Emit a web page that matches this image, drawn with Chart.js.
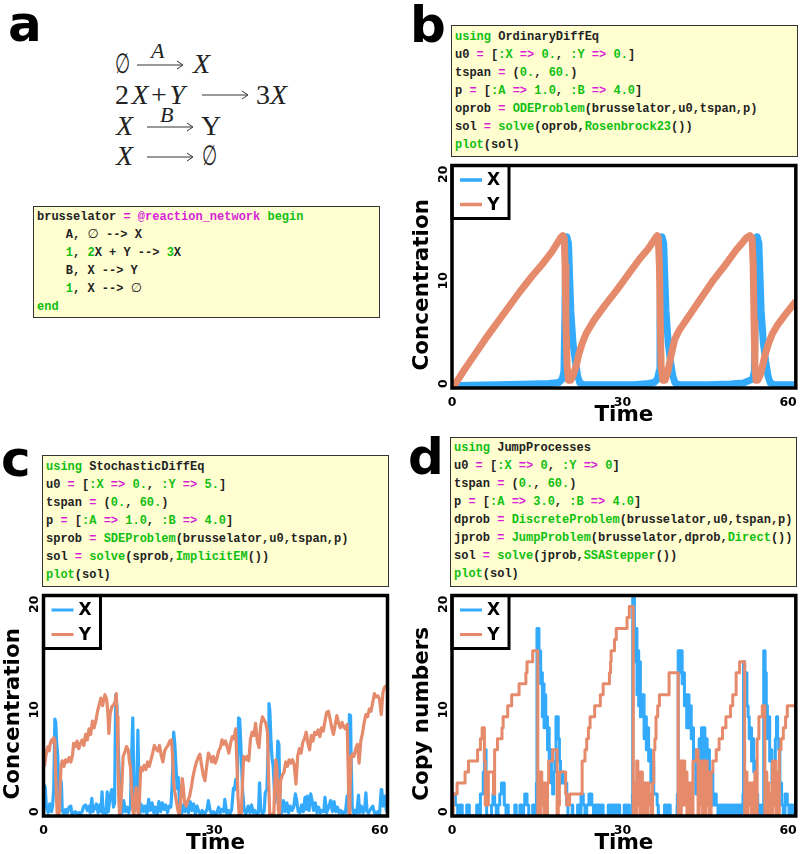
<!DOCTYPE html>
<html>
<head>
<meta charset="utf-8">
<title>Brusselator</title>
<script src="https://cdn.jsdelivr.net/npm/chart.js@4/dist/chart.umd.min.js"></script>
<style>
  body { margin: 0; background: #fff; width: 800px; height: 854px; position: relative; overflow: hidden; }
  canvas { position: absolute; }
  .letter { position: absolute; font: bold 50px "DejaVu Sans"; line-height: 1; color: #000; }
  .eq { position: absolute; font: 28px "Liberation Serif", "DejaVu Serif"; line-height: 1; color: #222; white-space: pre; }
  .eq.small { font-size: 22px; font-style: italic; }
  .eq.empty { transform: scaleX(0.62); transform-origin: left center; }
  .code {
    position: absolute; box-sizing: border-box; margin: 0; background: #fefed0; border: 1px solid #333;
    font: bold 12px/18px "Liberation Mono", "DejaVu Sans Mono", monospace; color: #222; padding: 0 0 0 3px; white-space: pre;
  }
  .g { color: #10c010; }
  .m { color: #d81fd8; }
  .e { font: 13px/0 "DejaVu Sans"; }
  svg.arrows { position: absolute; left: 0; top: 0; }
</style>
</head>
<body>

<div class="letter" style="left:8px;top:-1px">a</div>
<div class="letter" style="left:410px;top:0px">b</div>
<div class="letter" style="left:1px;top:434px">c</div>
<div class="letter" style="left:408px;top:432px">d</div>

<div class="eq empty" style="left:115px;top:50px">∅</div>
<div class="eq small" style="left:151px;top:40px">A</div>
<div class="eq" style="left:193px;top:50px"><i>X</i></div>
<div class="eq" style="left:115px;top:81px;letter-spacing:2.5px">2<i>X</i>+<i>Y</i></div>
<div class="eq" style="left:256px;top:81px">3<i>X</i></div>
<div class="eq" style="left:116px;top:112px"><i>X</i></div>
<div class="eq small" style="left:160px;top:104px">B</div>
<div class="eq" style="left:201px;top:112px">Y</div>
<div class="eq" style="left:116px;top:142px"><i>X</i></div>
<div class="eq empty" style="left:202px;top:142px">∅</div>
<svg class="arrows" width="400" height="200" fill="none" stroke="#333" stroke-width="1">
  <path d="M137 65H182M177 61L183 65L177 69"/>
  <path d="M202 95H247M242 91L248 95L242 99"/>
  <path d="M147 127H192M187 123L193 127L187 131"/>
  <path d="M147 157H192M187 153L193 157L187 161"/>
</svg>

<pre class="code" style="left:33px;top:206px;width:347px;height:112px;padding-top:1px">brusselator <span class="m">=</span> <span class="m">@reaction_network</span> <span class="g">begin</span>
    A, <span class="e">∅</span> --&gt; X
    <span class="g">1</span>, <span class="g">2</span>X + Y --&gt; <span class="g">3</span>X
    B, X --&gt; Y
    <span class="g">1</span>, X --&gt; <span class="e">∅</span>
<span class="g">end</span></pre>

<pre class="code" style="left:451px;top:25px;width:347px;height:132px;padding-top:2px"><span class="g">using</span> OrdinaryDiffEq
u0 <span class="m">=</span> [<span class="g">:X</span> <span class="m">=&gt;</span> <span class="g">0.</span>, <span class="g">:Y</span> <span class="m">=&gt;</span> <span class="g">0.</span>]
tspan <span class="m">=</span> (<span class="g">0.</span>, <span class="g">60.</span>)
p <span class="m">=</span> [<span class="g">:A</span> <span class="m">=&gt;</span> <span class="g">1.0</span>, <span class="g">:B</span> <span class="m">=&gt;</span> <span class="g">4.0</span>]
oprob <span class="m">=</span> <span class="g">ODEProblem</span>(brusselator,u0,tspan,p)
sol <span class="m">=</span> <span class="g">solve</span>(oprob,<span class="g">Rosenbrock23</span>())
<span class="g">plot</span>(sol)</pre>

<pre class="code" style="left:42px;top:455px;width:347px;height:132px;padding-top:2px"><span class="g">using</span> StochasticDiffEq
u0 <span class="m">=</span> [<span class="g">:X</span> <span class="m">=&gt;</span> <span class="g">0.</span>, <span class="g">:Y</span> <span class="m">=&gt;</span> <span class="g">5.</span>]
tspan <span class="m">=</span> (<span class="g">0.</span>, <span class="g">60.</span>)
p <span class="m">=</span> [<span class="g">:A</span> <span class="m">=&gt;</span> <span class="g">1.0</span>, <span class="g">:B</span> <span class="m">=&gt;</span> <span class="g">4.0</span>]
sprob <span class="m">=</span> <span class="g">SDEProblem</span>(brusselator,u0,tspan,p)
sol <span class="m">=</span> <span class="g">solve</span>(sprob,<span class="g">ImplicitEM</span>())
<span class="g">plot</span>(sol)</pre>

<pre class="code" style="left:450px;top:437px;width:347px;height:150px;padding-top:1px"><span class="g">using</span> JumpProcesses
u0 <span class="m">=</span> [<span class="g">:X</span> <span class="m">=&gt;</span> <span class="g">0</span>, <span class="g">:Y</span> <span class="m">=&gt;</span> <span class="g">0</span>]
tspan <span class="m">=</span> (<span class="g">0.</span>, <span class="g">60.</span>)
p <span class="m">=</span> [<span class="g">:A</span> <span class="m">=&gt;</span> <span class="g">3.0</span>, <span class="g">:B</span> <span class="m">=&gt;</span> <span class="g">4.0</span>]
dprob <span class="m">=</span> <span class="g">DiscreteProblem</span>(brusselator,u0,tspan,p)
jprob <span class="m">=</span> <span class="g">JumpProblem</span>(brusselator,dprob,<span class="g">Direct</span>())
sol <span class="m">=</span> <span class="g">solve</span>(jprob,<span class="g">SSAStepper</span>())
<span class="g">plot</span>(sol)</pre>

<canvas id="chartB" width="400" height="268" style="left:400px;top:158px"></canvas>
<canvas id="chartC" width="400" height="266" style="left:0;top:588px"></canvas>
<canvas id="chartD" width="400" height="266" style="left:400px;top:588px"></canvas>

<script>
// values, time and value lists go in pairs

const xTicks = [0, 30, 60];
const yTicks = [0, 10, 20];

// panel b: ODE
const bXTime = [
  0,0.3,3,8,14,17,18.8,19.4,19.7,19.85,
  20,20.2,20.5,20.9,21.3,21.7,22.1,22.5,23.3,
  28,32,34.5,35.6,36.15,36.45,36.6,36.75,36.95,37.25,
  37.65,38.05,38.45,38.85,39.25,40,
  45,49,51.3,52.9,53.2,53.35,53.5,53.7,54,
  54.4,54.8,55.2,55.6,56,56.8,60.5
];
const bXValues = [
  0,0.2,0.25,0.3,0.35,0.4,0.5,0.8,1.5,6,
  12,13.6,13,7,4,2.4,1.1,0.45,0.3,
  0.3,0.3,0.4,0.5,0.8,1.5,6,12,13.6,13,
  7,4,2.4,1.1,0.45,0.3,
  0.3,0.35,0.45,0.8,1.5,6,12,13.6,13,
  7,4,2.4,1.1,0.45,0.3,0.3
];
const bYTime = [
  0,0.5,2,4,6,8,10,12,14,16,
  17.5,18.5,19.1,19.5,19.75,19.9,20.05,20.25,20.5,20.9,
  21.3,21.8,22.3,22.9,23.6,25,27,29,31,33,
  34.5,35.3,35.8,36.1,36.3,36.5,36.65,36.8,37.1,37.5,
  38,38.5,39.2,40,42,44,46,48,50,51,
  51.8,52.4,52.8,53,53.15,53.3,53.5,53.8,54.2,54.6,
  55.1,55.7,56.4,57.2,58.5,60.5
];
const bYValues = [
  0,0.3,1.5,3,4.5,5.9,7.3,8.7,10,11.2,
  12.2,13,13.5,13.7,13.5,11,6,2,0.7,0.7,
  1.1,1.9,3,4,4.9,6.1,7.5,8.8,10.2,11.6,
  12.5,13.1,13.5,13.7,13.5,11,6,2,0.7,0.7,
  1.5,2.8,4.4,5.2,6.7,8.2,9.7,11,12.4,13,
  13.5,13.7,13.5,11,6,2,0.7,0.7,1.1,1.9,
  3,4,4.9,5.6,6.5,7.8
];

// panel c: SDE
const cXTime = [
  0,0.15,0.3,0.5,0.8,1.1,1.4,1.6,1.8,2.0,
  2.15,2.3,2.5,2.7,2.85,3.0,3.15,3.3,3.6,3.9,
  4.2,4.5,4.8,5.0,5.3,5.6,5.9,6.2,6.5,6.8,
  7.1,7.4,7.7,8.0,8.2,8.5,8.7,9.0,9.3,9.6,
  9.9,10.1,10.3,10.5,10.8,11.0,11.2,11.4,11.7,12.0,
  12.3,12.5,12.7,12.9,13.1,13.3,13.5,13.8,14.1,14.4,
  14.7,15,15.3,15.5,15.7,15.9,16.1,16.4,16.6,16.8,
  17,17.3,17.6,17.9,18.2,18.5,18.8,19.1,19.4,19.7,
  20,20.3,20.6,20.9,21.2,21.5,21.8,22.1,22.4,22.6,
  22.9,23.1,23.3,23.5,23.7,24,24.3,24.6,24.9,25.2,
  25.5,25.8,26.1,26.4,26.7,27,27.3,27.6,27.9,28.2,
  28.5,28.8,29,29.3,29.6,29.9,30.2,30.5,30.8,31.1,
  31.4,31.7,31.9,32.2,32.5,32.8,33.1,33.4,33.6,33.8,
  34.1,34.3,34.5,34.7,35,35.3,35.6,36,36.3,36.6,
  36.9,37.2,37.5,37.8,38,38.2,38.5,38.8,39,39.3,
  39.5,39.65,39.8,40,40.2,40.4,40.7,41,41.2,41.4,
  41.6,41.9,42.2,42.5,42.8,43.1,43.4,43.7,44,44.3,
  44.5,44.8,45.1,45.4,45.7,46,46.2,46.4,46.7,47,
  47.2,47.5,47.8,48.1,48.4,48.7,49,49.3,49.5,49.8,
  50.1,50.5,50.8,51.1,51.4,51.7,52,52.3,52.6,52.9,
  53.1,53.4,53.6,53.8,54,54.1,54.3,54.6,54.9,55.1,
  55.4,55.6,55.9,56.2,56.5,56.7,56.9,57.2,57.5,57.9,
  58.2,58.5,58.8,59.1,59.4,59.5,59.7,60,60.3,60.5
];
const cXValues = [
  0,2.8,2.6,0.9,0.3,1.1,0.4,0.9,2.5,8.8,
  8.5,6.8,5.5,2.2,1.0,3.3,3.0,0.5,0.2,0.6,
  0.3,0.8,0.9,0.2,0.3,0.4,0.2,0.3,0.2,0.4,
  0.9,1.0,0.5,0.9,0.3,1.6,0.4,0.7,1.1,0.3,
  1.0,0.4,2.2,0.3,0.6,0.2,2.2,0.4,1.8,2.4,
  0.8,1.2,11,10,7,4,1.5,0.3,1.4,0.4,
  0.8,0.3,1,5.4,8.9,3,0.5,2,7.8,2.2,
  0.3,1.0,0.4,0.9,0.2,1.5,0.5,1.2,0.3,0.8,
  0.2,1.3,0.4,1.2,0.6,1.0,0.3,0.9,0.8,2.5,
  7.6,6.5,4.5,2.5,3.5,0.5,0.2,1,0.4,0.9,
  0.3,1.3,0.5,1.1,0.2,0.9,0.4,0.2,0.5,0.2,
  0.3,0.7,1.4,0.5,0.2,0.4,0.2,0.3,0.8,0.3,
  0.6,0.4,1.5,0.3,0.5,0.2,0.6,2.5,2.4,3.3,
  3,8.9,8.8,6.6,2.4,0.5,0.2,0.9,0.3,1,
  0.3,0.5,0.2,0.3,3,0.6,0.2,0.4,2.1,2.4,
  6,10.2,9.6,6.9,5.2,4.5,1.2,3,6.8,6.5,
  0.9,0.3,1.4,0.4,1.2,0.3,0.9,0.5,0.8,2,
  1.5,0.4,0.3,1,0.4,1.7,0.6,1.8,0.5,2,
  1.5,0.5,1.2,0.3,0.8,0.3,0.5,0.4,1.7,0.3,
  0.7,1.4,0.4,1.3,0.4,0.8,0.3,0.5,0.2,0.4,
  0.3,1.8,0.4,9.2,9.1,5.4,0.8,0.2,0.5,0.3,
  1.9,0.3,0.9,0.3,0.8,2.1,0.4,0.3,0.6,0.9,
  0.3,0.2,0.4,0.2,2.4,2.3,0.9,1.8,0.5,1
];
const cYTime = [
  0,0.2,0.4,0.6,0.8,1.0,1.2,1.4,1.6,1.8,2.0,2.1,2.25,2.4,2.6,2.8,2.95,3.1,
  3.3,3.6,3.9,4.2,4.5,4.8,5.1,5.3,5.6,5.9,6.2,6.5,6.8,7.1,7.4,7.7,8.0,8.3,8.6,8.9,
  9.2,9.5,9.8,10.1,10.4,10.8,11.1,11.3,11.5,11.7,12.0,12.35,12.6,12.8,12.95,13.1,13.25,13.4,
  13.6,13.8,14.0,14.3,14.6,14.9,15.1,15.3,15.5,15.7,15.9,16.1,16.3,16.5,16.7,16.9,17.1,
  17.4,17.7,18,18.3,18.6,18.9,19.2,19.5,19.8,20.1,20.4,20.7,21,21.3,21.6,21.9,22.2,22.5,22.7,22.9,
  23.1,23.3,23.6,23.9,24.2,24.4,24.6,24.8,25.1,25.4,25.7,26,26.3,26.6,26.9,27.2,27.5,
  27.8,28.1,28.4,28.7,29,29.3,29.6,29.9,30.2,30.5,30.8,31.1,31.4,31.7,32,32.3,32.6,32.9,33.2,33.5,33.8,34,34.2,34.4,34.6,34.8,
  35,35.2,35.5,35.8,36.1,36.4,36.7,37,37.3,37.6,37.9,38.2,38.5,38.8,39.1,39.4,39.6,39.8,40,40.3,
  40.5,40.7,40.85,41.05,41.3,41.5,41.7,42,42.3,42.6,42.9,43.2,43.5,43.8,44.1,44.4,44.7,45,45.3,45.6,
  45.9,46.2,46.5,46.8,47.1,47.4,47.7,48,48.3,48.6,48.9,49.2,49.5,49.8,50.1,50.4,50.7,51,51.3,51.6,
  51.9,52.2,52.5,52.8,53.1,53.4,53.6,53.75,53.9,54.1,54.3,
  54.6,54.9,55.2,55.5,55.8,56.1,56.4,56.7,57,57.3,57.6,57.9,58.2,58.5,58.8,59.1,59.4,59.7,60,60.3
];
const cYValues = [
  5.0,4.6,5.4,6.0,6.3,5.9,6.6,6.9,6.7,7.1,6.9,4.5,2.0,0.3,0.0,0.4,3.0,4.6,
  5.0,4.5,5.1,4.9,5.3,4.9,5.5,6.6,6.3,6.8,6.1,6.6,6.9,6.4,7.4,6.9,7.9,7.4,8.6,8.0,
  8.6,9.5,10.1,10.7,10.0,11.0,10.6,9.5,7.5,9.2,9.9,10.1,10.4,11.1,9,5,1.5,0,
  1,3,5.4,5.8,6.3,6.0,5.0,4.4,2.5,0.6,0,1.5,2.6,1.0,0,1.8,4.4,
  4.1,4.6,4.2,4.9,4.5,5.1,5.7,6.4,6.1,5.9,6.4,5.5,4.9,5.9,6.2,6.4,6.8,6.9,5.5,3,
  2.2,1.6,0.6,0,2,3.4,2.6,1.2,0.9,1.4,1.8,2.6,3.6,4.3,4.9,5.3,5.6,
  4.6,3.7,3.2,4.5,5.7,5.4,4.9,5.4,4.8,5.2,5.9,6.2,6.9,6.5,6.8,6.3,5.7,6.6,7.2,7.0,7.9,5,1.8,0.2,0,0.3,
  3,5.4,5.1,5.4,5.0,7.0,7.6,7.3,8.4,6.8,6.2,8.2,9.0,8.7,8.4,7.6,3,0,0,0.2,
  0,3.5,5.1,4.4,0.5,0,3.2,3.7,4.0,4.9,4.5,5.1,4.8,5.1,4.6,2.9,5.4,6.1,5.7,6.7,
  7.0,7.6,6.6,6.0,7.3,6.8,7.6,7.4,7.8,7.2,8.0,7.7,8.6,9.4,9.5,8.8,8.0,7.4,8.3,9.1,
  8.4,8.0,8.5,8.1,7.9,8.3,4,0,2,5.4,5.6,
  5.4,6.1,6.5,4.8,6.8,7.5,8.5,9.2,9.0,9.7,9.5,10.3,11.1,10.8,10.9,10.6,9.2,11.2,11.7,11.8
];

// panel d: jumps, each value holds until the next time
const dXTime = [
  0,0.1,0.6,1.0,1.4,1.8,2.6,3.05,4.35,4.7,
  5,5.5,5.7,6,6.1,6.95,7.2,7.5,7.8,8.1,
  8.4,8.7,9.2,9.5,9.8,9.9,11.05,11.3,11.95,12.3,
  12.6,12.8,13.2,13.5,14.2,14.5,14.85,14.95,15.3,15.45,
  15.6,15.75,15.9,16.05,16.2,16.35,16.5,16.65,16.8,16.95,
  17.1,17.3,17.5,17.7,17.9,18.1,18.3,18.5,18.7,18.9,
  19.1,19.3,19.6,20.2,20.4,21.15,21.25,22.1,22.4,22.7,
  23.1,23.4,23.7,24.1,24.6,24.9,25.2,25.5,25.8,26.1,
  26.4,26.6,27.5,27.8,28.1,28.4,28.7,29,29.3,29.5,
  30.3,30.6,30.9,31.2,31.75,31.8,32.1,32.25,32.4,32.55,
  32.7,32.85,33,33.15,33.3,33.45,33.6,33.8,34,34.2,
  34.4,34.6,34.8,35,35.2,35.5,35.8,36.1,36.3,37.4,
  37.7,38,38.4,39.6,39.65,39.8,40.1,40.3,40.5,40.7,
  40.9,41.1,41.3,41.5,41.7,41.9,42.1,42.3,42.5,42.7,
  42.9,43.1,43.3,43.5,43.7,43.9,44.1,44.3,44.5,44.7,
  44.9,45.1,45.3,45.6,45.9,46.2,46.5,46.8,47.1,47.4,
  47.7,48,48.3,48.6,48.9,49.2,49.5,49.8,50.1,50.4,
  50.7,51,51.2,51.3,51.5,51.7,51.9,52.1,52.3,52.5,
  52.7,52.9,53.1,53.3,53.5,53.8,54.1,54.4,54.7,54.85,
  55.1,55.3,55.5,55.7,55.9,56.1,56.3,56.5,56.7,56.9,
  57.1,57.3,57.5,57.7,58,58.3,58.6,59,59.3,59.5,
  59.8,60.1,60.5
];
const dXValues = [
  0,2,1,0,1,0,1,0,1,0,
  2,4,6,2,0,1,2,1,0,1,
  2,3,1,0,1,0,1,0,1,0,
  1,2,1,0,1,0,3,17,14,15,
  12,13,9,12,8,11,8,9,6,8,
  5,6,3,2,4,5,9,9,7,5,
  3,4,3,1,0,1,0,1,0,2,
  1,0,1,2,1,0,1,0,1,0,
  1,0,1,0,1,0,1,0,1,0,
  1,0,1,0,2,20,17,14,17,11,
  15,10,14,9,11,10,11,7,9,6,
  8,5,6,3,5,2,2,1,0,1,
  0,1,0,1,2,15,13,15,12,13,
  10,11,8,11,8,10,7,8,5,6,
  2,3,4,7,5,8,5,8,4,7,
  3,6,2,4,1,2,1,0,1,0,
  1,0,1,0,1,0,1,0,1,0,
  1,0,2,14,11,13,10,9,7,8,
  5,7,4,5,2,1,0,1,0,15,
  13,10,7,9,5,6,3,4,2,7,
  9,7,6,3,1,0,2,1,0,1,
  0,1,0
];
const dYTime = [
  0,0.2,0.9,2.3,2.9,4.5,5,5.3,5.7,5.85,
  6.0,6.2,6.4,7.3,7.5,8,8.8,9,9.8,10.5,
  11.8,13,13.2,14.2,15.1,15.2,15.4,15.6,15.8,16,
  16.2,16.4,16.6,16.8,17,17.7,18.5,18.7,18.9,20,
  20.2,20.7,22.9,23.4,23.7,24,24.3,25.1,26.1,26.6,
  27.7,27.9,28,28.6,28.9,30.8,31.2,31.9,32.1,32.3,
  32.5,32.7,32.9,33.1,33.3,33.5,33.7,33.9,34.1,34.3,
  34.5,34.7,34.9,35.1,35.3,35.5,35.7,35.9,36.2,36.5,
  38.2,39.8,39.95,40.15,40.35,40.55,40.75,40.95,41.15,41.35,
  41.55,41.75,41.95,42.15,42.4,43,43.3,43.5,43.7,43.9,
  44.1,44.3,44.5,44.7,44.9,45.1,45.3,45.6,45.9,46.5,
  47,47.6,48.2,49,49.4,50,50.6,51.5,51.7,51.9,
  52.1,52.3,52.5,52.7,52.9,53.1,53.3,53.5,53.7,54,
  54.6,55.05,55.2,55.4,55.6,55.8,56,56.2,56.4,56.6,
  56.8,57,57.2,57.4,57.6,57.9,58.3,58.7,59,60.5
];
const dYValues = [
  0,2,3,4,5,6,7,8,5,1,
  4,1,4,2,6,7,8,9,10,11,
  12,13,14,15,0,4,0,4,1,3,
  0,3,0,3,5,6,0,1,4,2,
  1,2,5,6,7,8,9,10,11,12,
  13,14,15,16,17,18,19,0,3,0,
  5,1,4,0,4,0,3,0,3,0,
  3,1,2,0,3,6,7,9,10,11,
  13,0,5,0,5,1,5,1,4,0,
  3,0,3,0,5,6,0,5,1,5,
  0,5,0,5,1,4,0,4,5,6,
  7,8,9,10,11,13,14,0,4,0,
  3,1,3,0,3,0,4,0,7,9,
  10,0,4,0,3,0,2,0,5,1,
  5,0,4,0,6,7,8,9,10,10
];

const blue = '#33aafc';
const orange = '#e58a6b';
const black = '#000';
const boldFont = 'DejaVu Sans';

function toPoints(times, values) {
  return times.map((t, i) => ({ x: t, y: values[i] }));
}

// frame, legend box and the y title are not something Chart.js places like this
const panelDecor = {
  id: 'panelDecor',
  beforeDraw(chart) {
    // tick labels sit inside the frame ends in the reference
    chart.scales.y.getLabelItems().forEach(item => {
      if (item.label === '20') item.options.textAlign = 'right';
      if (item.label === '0') item.options.textAlign = 'left';
      if (item.label === '10') item.options.translation[1] += 4;
    });
    chart.scales.x.getLabelItems().forEach(item => {
      if (item.label === '0') item.options.textAlign = 'center';
      if (item.label === '60') item.options.translation[0] = chart.chartArea.right + 1;
    });
  },
  afterDraw(chart, args, opts) {
    const ctx = chart.ctx;
    const area = chart.chartArea;
    ctx.save();

    ctx.fillStyle = '#fff';
    ctx.fillRect(area.left, area.top, 57, 53);
    ctx.strokeStyle = black;
    ctx.lineWidth = 3;
    ctx.strokeRect(area.left, area.top, 57, 53);
    ctx.lineWidth = 3.5;
    ctx.strokeRect(area.left, area.top, area.right - area.left, area.bottom - area.top);

    chart.data.datasets.forEach((ds, i) => {
      const y = area.top + 14.5 + i * 24.5;
      ctx.strokeStyle = ds.borderColor;
      ctx.lineWidth = opts.legendLine;
      ctx.beginPath();
      ctx.moveTo(area.left + 8, y);
      ctx.lineTo(area.left + 30, y);
      ctx.stroke();
      ctx.fillStyle = black;
      ctx.font = 'bold 17px "' + boldFont + '"';
      ctx.textAlign = 'center';
      ctx.textBaseline = 'middle';
      ctx.fillText(ds.label, area.left + 41.5, y + 1);
    });

    ctx.translate(area.left - 30, (area.top + area.bottom) / 2 + 8);
    ctx.rotate(-Math.PI / 2);
    ctx.fillStyle = black;
    ctx.font = 'bold 21.5px "' + boldFont + '"';
    ctx.textAlign = 'center';
    ctx.textBaseline = 'middle';
    ctx.fillText(opts.yTitle, 0, 0);
    ctx.restore();
  }
};

function drawPanel(id, opts) {
  new Chart(document.getElementById(id), {
    type: 'line',
    data: {
      datasets: [
        // Y goes over X, lower order is drawn last
        { label: 'X', order: 2, data: toPoints(opts.xTime, opts.xValues), borderColor: blue, borderWidth: opts.lineWidth, stepped: opts.stepped, pointRadius: 0 },
        { label: 'Y', order: 1, data: toPoints(opts.yTime, opts.yValues), borderColor: orange, borderWidth: opts.lineWidth, stepped: opts.stepped, pointRadius: 0 }
      ]
    },
    options: {
      responsive: false,
      animation: false,
      parsing: false,
      layout: { padding: { top: opts.top, right: opts.right, left: 0, bottom: 0 } },
      elements: {
        line: { tension: 0, borderJoinStyle: 'round' }
      },
      plugins: {
        legend: { display: false },
        tooltip: { enabled: false },
        panelDecor: { yTitle: opts.yTitle, legendLine: opts.legendLine }
      },
      scales: {
        x: {
          type: 'linear',
          min: 0,
          max: 60.5,
          grid: { display: false, drawTicks: false },
          border: { display: false },
          afterBuildTicks: scale => { scale.ticks = xTicks.map(v => ({ value: v })); },
          afterFit: scale => { scale.height = 38; },
          ticks: {
            align: 'inner',
            maxRotation: 0,
            autoSkip: false,
            padding: 7,
            color: black,
            font: { family: boldFont, weight: 'bold', size: 12.5 }
          },
          title: {
            display: true,
            text: 'Time',
            color: black,
            padding: 0,
            font: { family: boldFont, weight: 'bold', size: 21.5, lineHeight: 1 }
          }
        },
        y: {
          min: 0,
          max: 20,
          grid: { display: false, drawTicks: false },
          border: { display: false },
          afterBuildTicks: scale => { scale.ticks = yTicks.map(v => ({ value: v })); },
          afterFit: scale => { scale.width = opts.left; },
          ticks: {
            minRotation: 90,
            maxRotation: 90,
            crossAlign: 'center',
            padding: 0,
            color: black,
            font: { family: boldFont, weight: 'bold', size: 12.5 }
          }
        }
      }
    },
    plugins: [panelDecor]
  });
}

drawPanel('chartB', {
  xTime: bXTime, xValues: bXValues, yTime: bYTime, yValues: bYValues,
  yTitle: 'Concentration', lineWidth: 7, legendLine: 3.5, stepped: false,
  left: 52, right: 3, top: 6
});
drawPanel('chartC', {
  xTime: cXTime, xValues: cXValues, yTime: cYTime, yValues: cYValues,
  yTitle: 'Concentration', lineWidth: 3.2, legendLine: 3, stepped: false,
  left: 43.5, right: 12.5, top: 6
});
drawPanel('chartD', {
  xTime: dXTime, xValues: dXValues, yTime: dYTime, yValues: dYValues,
  yTitle: 'Copy numbers', lineWidth: 3, legendLine: 3, stepped: true,
  left: 52, right: 4, top: 6
});
</script>
</body>
</html>
